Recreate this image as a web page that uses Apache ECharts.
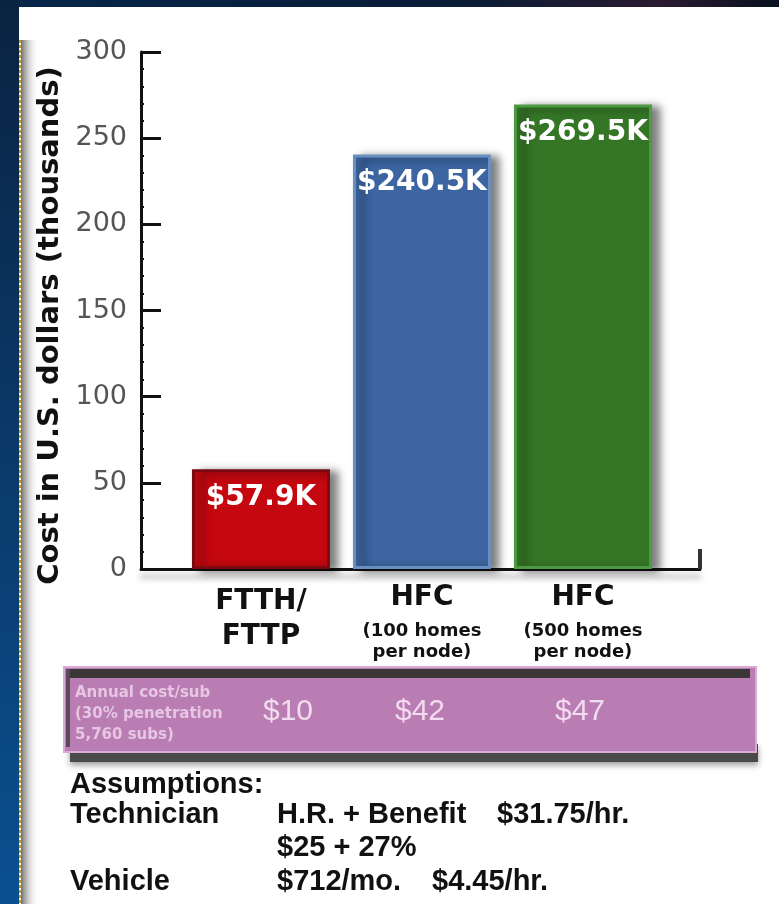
<!DOCTYPE html>
<html>
<head>
<meta charset="utf-8">
<title>Cost comparison</title>
<script src="https://cdn.jsdelivr.net/npm/echarts@6/dist/echarts.min.js"></script>
<style>
    html, body { margin: 0; padding: 0; background: #fff; }
    #chart { width: 779px; height: 904px; }
</style>
</head>
<body>
<div id="chart"></div>
<script>
var positions = [1, 2, 3];
var costs = [57.9, 240.5, 269.5]; // thousands of US dollars
var techNames = ['FTTH/\nFTTP', 'HFC', 'HFC'];
var techNotes = ['', '(100 homes\nper node)', '(500 homes\nper node)'];
var barColors = ['#c5070f', '#3c65a1', '#357626'];
var barBorders = ['#7a0a10', '#6a90c2', '#4d9a42'];
var annualCost = ['$10', '$42', '$47'];
var yTicks = [0, 50, 100, 150, 200, 250, 300];

var bold = 'DejaVu Sans';

var barData = [];
for (var i = 0; i < costs.length; i++) {
    barData.push({
        value: [positions[i], costs[i]],
        itemStyle: { color: barColors[i], borderColor: barBorders[i] }
    });
}

function xLabel(value) {
    var i = positions.indexOf(value);
    if (i < 0) return '';
    if (techNotes[i] == '') {
        var parts = techNames[i].split('\n');
        return '{m|' + parts[0] + '}\n{n|' + parts[1] + '}';
    }
    var notes = techNotes[i].split('\n');
    return '{a|' + techNames[i] + '}\n{b|' + notes[0] + '}\n{b|' + notes[1] + '}';
}

var option = {
    animation: false,
    backgroundColor: '#fff',
    grid: { left: 141, top: 52, right: 79, bottom: 335, outerBoundsMode: 'none' },
    xAxis: {
        type: 'value',
        min: 0.255,
        max: 3.727,
        splitLine: { show: false },
        axisLine: {
            show: true,
            lineStyle: { color: '#111', width: 3, shadowColor: 'rgba(0,0,0,0.35)', shadowBlur: 6, shadowOffsetY: 7 }
        },
        axisTick: { show: true, inside: true, length: 20, customValues: [3.727], lineStyle: { color: '#333', width: 4 } },
        axisLabel: {
            customValues: positions,
            margin: 6,
            formatter: xLabel,
            rich: {
                m: { fontFamily: bold, fontWeight: 'bold', fontSize: 28, lineHeight: 54, color: '#111' },
                n: { fontFamily: bold, fontWeight: 'bold', fontSize: 28, lineHeight: 16, color: '#111' },
                a: { fontFamily: bold, fontWeight: 'bold', fontSize: 28, lineHeight: 46, color: '#111' },
                b: { fontFamily: bold, fontWeight: 'bold', fontSize: 18, lineHeight: 21, color: '#111' }
            }
        }
    },
    yAxis: {
        type: 'value',
        min: 0,
        max: 300,
        interval: 50,
        name: 'Cost in U.S. dollars (thousands)',
        nameLocation: 'middle',
        nameGap: 70,
        nameTextStyle: { fontFamily: bold, fontWeight: 'bold', fontSize: 29, color: '#111', padding: [0, 30, 0, 0] },
        splitLine: { show: false },
        axisLine: { show: true, onZero: false, lineStyle: { color: '#111', width: 3 } },
        axisTick: { show: true, inside: true, length: 20, lineStyle: { color: '#111', width: 3 } },
        minorTick: { show: true, splitNumber: 5, length: 3, lineStyle: { color: '#111', width: 2 } },
        axisLabel: {
            margin: 14,
            fontFamily: 'DejaVu Sans',
            fontSize: 27,
            color: '#555',
            customValues: yTicks
        }
    },
    series: [{
        type: 'bar',
        barWidth: 138,
        data: barData,
        itemStyle: {
            borderWidth: 3,
            shadowColor: 'rgba(0,0,0,0.5)',
            shadowBlur: 8,
            shadowOffsetX: 8,
            shadowOffsetY: 2
        },
        label: {
            show: true,
            position: 'insideTop',
            distance: 14,
            fontFamily: bold,
            fontWeight: 'bold',
            fontSize: 28,
            color: '#fff',
            formatter: function(p) {
                return '$' + p.value[1] + 'K';
            }
        }
    }],
    graphic: []
};

// frame round the slide
option.graphic.push({
    type: 'rect', shape: { x: 0, y: 0, width: 779, height: 7 },
    style: { fill: new echarts.graphic.LinearGradient(0, 0, 1, 0, [
        { offset: 0, color: '#06264a' }, { offset: 0.6, color: '#0a1c36' },
        { offset: 0.85, color: '#2a1a30' }, { offset: 1, color: '#08101e' }]) }
});
option.graphic.push({
    type: 'rect', shape: { x: 0, y: 0, width: 19, height: 904 },
    style: { fill: new echarts.graphic.LinearGradient(0, 0, 0, 1, [
        { offset: 0, color: '#0a2341' }, { offset: 1, color: '#0a5091' }]) }
});
option.graphic.push({
    type: 'rect', shape: { x: 21, y: 40, width: 18, height: 864 },
    style: { fill: new echarts.graphic.LinearGradient(0, 0, 1, 0, [
        { offset: 0, color: '#707070' }, { offset: 1, color: 'rgba(255,255,255,0)' }]) }
});
option.graphic.push({
    type: 'line', shape: { x1: 20, y1: 40, x2: 20, y2: 904 },
    style: { stroke: '#c89a1c', lineWidth: 2, lineDash: [3, 2] }
});

// annual cost band
option.graphic.push({
    type: 'rect', shape: { x: 70, y: 744, width: 688, height: 18 },
    style: { fill: '#4a4a4a', shadowColor: 'rgba(0,0,0,0.4)', shadowBlur: 6, shadowOffsetY: 3 }
});
option.graphic.push({
    type: 'rect', shape: { x: 64, y: 667, width: 692, height: 85 },
    style: { fill: '#b97db4', stroke: '#d9aad5', lineWidth: 2 }
});
option.graphic.push({
    type: 'rect', shape: { x: 68, y: 669, width: 682, height: 9 },
    style: { fill: '#3c3838' }
});
option.graphic.push({
    type: 'rect', shape: { x: 66, y: 669, width: 4, height: 78 },
    style: { fill: '#5a4a58' }
});
option.graphic.push({
    type: 'text', x: 75, y: 683,
    style: {
        text: 'Annual cost/sub\n(30% penetration\n5,760 subs)',
        fontFamily: 'DejaVu Sans', fontWeight: 'bold', fontSize: 15, lineHeight: 21,
        fill: '#e6c6e2', textVerticalAlign: 'top'
    }
});
var costX = [288, 420, 580];
for (var k = 0; k < annualCost.length; k++) {
    option.graphic.push({
        type: 'text', x: costX[k], y: 712,
        style: {
            text: annualCost[k], fontFamily: 'Liberation Sans', fontSize: 30,
            fill: '#f2dcef', textAlign: 'center', textVerticalAlign: 'middle'
        }
    });
}

// assumptions
var notes = [
    ['Assumptions:', 70, 770],
    ['Technician', 70, 800],
    ['H.R. + Benefit', 277, 800],
    ['$31.75/hr.', 497, 800],
    ['$25 + 27%', 277, 833],
    ['Vehicle', 70, 867],
    ['$712/mo.', 277, 867],
    ['$4.45/hr.', 432, 867]
];
for (var j = 0; j < notes.length; j++) {
    option.graphic.push({
        type: 'text', x: notes[j][1], y: notes[j][2],
        style: {
            text: notes[j][0], fontFamily: 'Liberation Sans', fontWeight: 'bold', fontSize: 29,
            fill: '#111', textVerticalAlign: 'top'
        }
    });
}

var chart = echarts.init(document.getElementById('chart'), null, { renderer: 'canvas' });
chart.setOption(option);
</script>
</body>
</html>
